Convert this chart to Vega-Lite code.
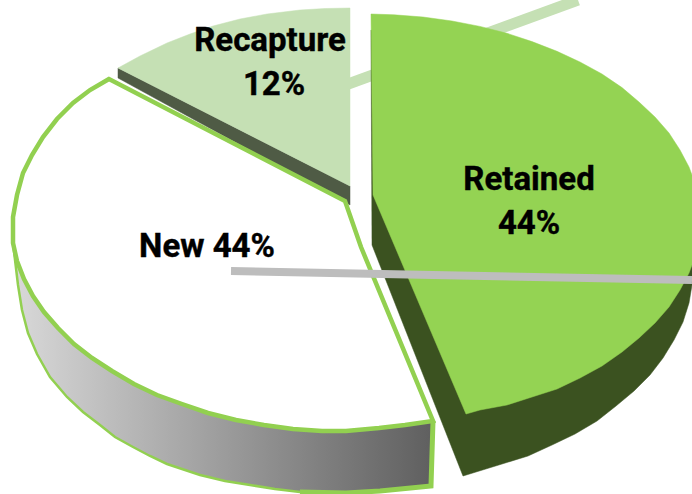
{
"$schema":"https://vega.github.io/schema/vega-lite/v6.json",
"width":692,"height":494,"padding":0,"autosize":{"type":"none"},"background":"white",
"view":{"stroke":null},
"datasets":{
"recaptureGuide":[{"i":0,"x":340,"y":87},{"i":1,"x":578,"y":0}],
"recaptureTop":[{"i":0,"x":118,"y":68},{"i":1,"x":140,"y":56},{"i":2,"x":167,"y":43},{"i":3,"x":190,"y":34},{"i":4,"x":213,"y":26},{"i":5,"x":240,"y":19},{"i":6,"x":267,"y":14},{"i":7,"x":300,"y":10},{"i":8,"x":325,"y":8.5},{"i":9,"x":350,"y":8},{"i":10,"x":350,"y":186}],
"recaptureEdge":[{"i":0,"x":118,"y":68},{"i":1,"x":350,"y":186},{"i":2,"x":350,"y":205},{"i":3,"x":118,"y":78}],
"retainedSide":[{"i":0,"x":371,"y":30},{"i":1,"x":372,"y":245},{"i":2,"x":463,"y":476},{"i":3,"x":476,"y":472},{"i":4,"x":502,"y":464},{"i":5,"x":528,"y":456},{"i":6,"x":552,"y":445},{"i":7,"x":575,"y":434},{"i":8,"x":597,"y":421},{"i":9,"x":616,"y":406},{"i":10,"x":634,"y":391},{"i":11,"x":650,"y":375},{"i":12,"x":663,"y":358},{"i":13,"x":674,"y":340},{"i":14,"x":683,"y":322},{"i":15,"x":689,"y":303},{"i":16,"x":692,"y":285},{"i":17,"x":692,"y":200}],
"retainedTop":[{"i":0,"x":371,"y":14},{"i":1,"x":394,"y":14.8},{"i":2,"x":423,"y":17},{"i":3,"x":452,"y":21},{"i":4,"x":480,"y":26.4},{"i":5,"x":507,"y":33.3},{"i":6,"x":532,"y":41.6},{"i":7,"x":557,"y":51.3},{"i":8,"x":580,"y":62},{"i":9,"x":602,"y":74},{"i":10,"x":622,"y":87.6},{"i":11,"x":639,"y":102},{"i":12,"x":655,"y":117},{"i":13,"x":669,"y":133},{"i":14,"x":680,"y":150},{"i":15,"x":689,"y":167},{"i":16,"x":692,"y":175},{"i":17,"x":692,"y":265},{"i":18,"x":689,"y":273},{"i":19,"x":680,"y":290},{"i":20,"x":669,"y":307},{"i":21,"x":655,"y":323},{"i":22,"x":639,"y":338},{"i":23,"x":622,"y":352},{"i":24,"x":602,"y":366},{"i":25,"x":580,"y":378},{"i":26,"x":557,"y":389},{"i":27,"x":532,"y":397},{"i":28,"x":507,"y":405},{"i":29,"x":480,"y":410},{"i":30,"x":466,"y":414},{"i":31,"x":373,"y":195}],
"newSide":[{"i":0,"x":13,"y":243},{"i":1,"x":17,"y":261},{"i":2,"x":24,"y":279},{"i":3,"x":33,"y":296},{"i":4,"x":44,"y":312},{"i":5,"x":58,"y":328},{"i":6,"x":74,"y":344},{"i":7,"x":92,"y":358},{"i":8,"x":112,"y":371},{"i":9,"x":134,"y":384},{"i":10,"x":157,"y":395},{"i":11,"x":182,"y":404},{"i":12,"x":208,"y":413},{"i":13,"x":236,"y":420},{"i":14,"x":264,"y":425},{"i":15,"x":293,"y":429},{"i":16,"x":322,"y":431},{"i":17,"x":346,"y":431},{"i":18,"x":379,"y":428},{"i":19,"x":405,"y":425},{"i":20,"x":433,"y":421},{"i":21,"x":431,"y":486},{"i":22,"x":380,"y":491},{"i":23,"x":346,"y":493},{"i":24,"x":320,"y":493},{"i":25,"x":300,"y":492},{"i":26,"x":275,"y":489},{"i":27,"x":250,"y":485},{"i":28,"x":225,"y":481},{"i":29,"x":200,"y":475},{"i":30,"x":167,"y":464},{"i":31,"x":150,"y":456},{"i":32,"x":133,"y":447},{"i":33,"x":115,"y":437},{"i":34,"x":100,"y":425},{"i":35,"x":83,"y":412},{"i":36,"x":67,"y":397},{"i":37,"x":50,"y":377},{"i":38,"x":37,"y":354},{"i":39,"x":28,"y":333},{"i":40,"x":22,"y":310},{"i":41,"x":18,"y":285}],
"newSideEnd":[{"i":0,"x":300,"y":492},{"i":1,"x":346,"y":493},{"i":2,"x":380,"y":491},{"i":3,"x":431,"y":486},{"i":4,"x":433,"y":421}],
"newTop":[{"i":0,"x":109,"y":79},{"i":1,"x":90,"y":90},{"i":2,"x":73,"y":103},{"i":3,"x":57,"y":119},{"i":4,"x":43,"y":137},{"i":5,"x":32,"y":155},{"i":6,"x":23,"y":173},{"i":7,"x":17,"y":195},{"i":8,"x":13,"y":217},{"i":9,"x":13,"y":243},{"i":10,"x":17,"y":261},{"i":11,"x":24,"y":279},{"i":12,"x":33,"y":296},{"i":13,"x":44,"y":312},{"i":14,"x":58,"y":328},{"i":15,"x":74,"y":344},{"i":16,"x":92,"y":358},{"i":17,"x":112,"y":371},{"i":18,"x":134,"y":384},{"i":19,"x":157,"y":395},{"i":20,"x":182,"y":404},{"i":21,"x":208,"y":413},{"i":22,"x":236,"y":420},{"i":23,"x":264,"y":425},{"i":24,"x":293,"y":429},{"i":25,"x":322,"y":431},{"i":26,"x":346,"y":431},{"i":27,"x":379,"y":428},{"i":28,"x":405,"y":425},{"i":29,"x":433,"y":421},{"i":30,"x":361,"y":247},{"i":31,"x":345,"y":201}],
"newGuide":[{"i":0,"x":231,"y":271},{"i":1,"x":692,"y":280}],
"labels":[{"x":270,"y":41,"text":"Recapture"},{"x":274,"y":85,"text":"12%"},{"x":529,"y":180,"text":"Retained"},{"x":529,"y":224,"text":"44%"},{"x":207,"y":247,"text":"New 44%"}]
},
"encoding":{
"x":{"field":"x","type":"quantitative","scale":{"domain":[0,692],"nice":false,"zero":false},"axis":null},
"y":{"field":"y","type":"quantitative","scale":{"domain":[494,0],"nice":false,"zero":false},"axis":null},
"order":{"field":"i","type":"quantitative"}
},
"layer":[
{"data":{"name":"recaptureGuide"},"mark":{"type":"line","stroke":"#c5e0b4","strokeWidth":11}},
{"data":{"name":"recaptureEdge"},"mark":{"type":"line","interpolate":"linear-closed","fill":"#4f5b45","stroke":"#4f5b45","strokeWidth":0.5}},
{"data":{"name":"recaptureTop"},"mark":{"type":"line","interpolate":"linear-closed","fill":"#c5e0b4","stroke":"#c5e0b4","strokeWidth":0.5}},
{"data":{"name":"newSide"},"mark":{"type":"line","interpolate":"linear-closed","stroke":"#92d050","strokeWidth":2.5,"strokeJoin":"miter","fill":{"x1":0,"x2":1,"y1":0,"y2":0,"gradient":"linear","stops":[{"offset":0,"color":"#d9d9d9"},{"offset":1,"color":"#5f5f5f"}]}}},
{"data":{"name":"newSideEnd"},"mark":{"type":"line","stroke":"#92d050","strokeWidth":5,"strokeJoin":"miter"}},
{"data":{"name":"newTop"},"mark":{"type":"line","interpolate":"linear-closed","fill":"#ffffff","stroke":"#92d050","strokeWidth":4.5,"strokeJoin":"miter"}},
{"data":{"name":"retainedSide"},"mark":{"type":"line","interpolate":"linear-closed","fill":"#3b5220","stroke":"#3b5220","strokeWidth":0.5}},
{"data":{"name":"retainedTop"},"mark":{"type":"line","interpolate":"linear-closed","fill":"#94d353","stroke":"#94d353","strokeWidth":0.5}},
{"data":{"name":"newGuide"},"mark":{"type":"line","stroke":"#bdbdbd","strokeWidth":8}},
{"data":{"name":"labels"},"mark":{"type":"text","font":"Roboto","fontWeight":"bold","fontSize":33,"color":"#000000","stroke":"#000000","strokeWidth":0.4,"align":"center","baseline":"middle"},"encoding":{"text":{"field":"text","type":"nominal"},"order":null}}
]
}
